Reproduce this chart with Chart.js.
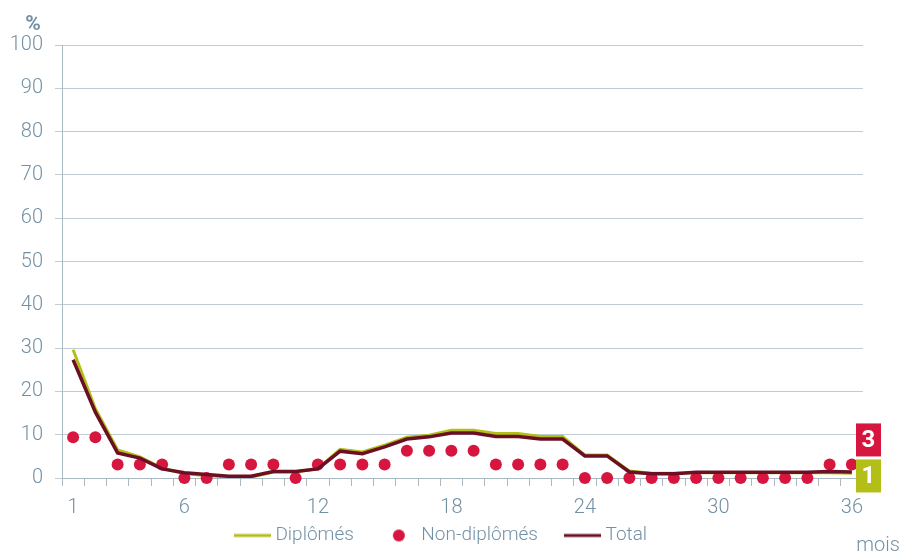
<!DOCTYPE html>
<html>
<head>
<meta charset="utf-8">
<script src="https://cdn.jsdelivr.net/npm/chart.js@4"></script>
<style>
  body { margin: 0; background: #fff; }
  #wrap { width: 901px; height: 555px; }
</style>
</head>
<body>
<div id="wrap"><canvas id="chart" width="901" height="555"></canvas></div>
<script>
// months 1..36
var months = ['1','2','3','4','5','6','7','8','9','10','11','12','13','14','15','16','17','18',
              '19','20','21','22','23','24','25','26','27','28','29','30','31','32','33','34','35','36'];
var shownMonths = ['1', '6', '12', '18', '24', '30', '36'];

var diplomes = [29.6, 16.0, 6.5, 4.9, 2.3, 1.0, 0.6, 0.2, 0.2, 1.4, 1.4, 2.2,
                6.6, 6.0, 7.6, 9.4, 9.9, 11.0, 11.0, 10.3, 10.3, 9.6, 9.6, 5.3,
                5.3, 1.6, 1.1, 1.1, 1.2, 1.2, 1.2, 1.2, 1.2, 1.2, 1.2, 1.1];
var nonDiplomes = [9.4, 9.4, 3.1, 3.1, 3.1, 0, 0, 3.1, 3.1, 3.1, 0, 3.1,
                   3.1, 3.1, 3.1, 6.3, 6.3, 6.3, 6.3, 3.1, 3.1, 3.1, 3.1, 0,
                   0, 0, 0, 0, 0, 0, 0, 0, 0, 0, 3.1, 3.1];
var total = [27.3, 15.2, 5.8, 4.6, 2.1, 1.2, 0.8, 0.4, 0.4, 1.5, 1.5, 2.1,
             6.2, 5.6, 7.2, 9.0, 9.5, 10.4, 10.4, 9.6, 9.6, 9.0, 9.0, 5.1,
             5.1, 1.4, 1.0, 1.0, 1.3, 1.3, 1.3, 1.3, 1.3, 1.3, 1.5, 1.4];

var green = '#b3bf17';
var red = '#d6163f';
var maroon = '#6b1024';
var txt = '#7391a5';
var gridCol = '#bfccd4';
var axisCol = '#a9bac4';
var fontFam = 'Roboto, "DejaVu Sans Condensed", sans-serif';

function legendIcon(kind, color) {
    var c = document.createElement('canvas');
    c.width = 60; c.height = 14;
    var g = c.getContext('2d');
    g.fillStyle = color;
    if (kind === 'line') {
        g.fillRect(23, 5.5, 37, 3);
    } else {
        g.beginPath();
        g.arc(42, 7, 6, 0, Math.PI * 2);
        g.fill();
    }
    return c;
}

var endLabels = {
    id: 'endLabels',
    afterDraw: function(chart) {
        var ctx = chart.ctx;
        var area = chart.chartArea;
        var y = chart.scales.y;
        ctx.save();
        // % and mois
        ctx.fillStyle = txt;
        ctx.font = 'bold 21px ' + fontFam;
        ctx.textAlign = 'center';
        ctx.textBaseline = 'middle';
        ctx.fillText('%', 33, 25);
        ctx.font = '300 20px ' + fontFam;
        ctx.fillText('mois', 878, 546);

        var x0 = area.right - 7;
        var gy = y.getPixelForValue(total[total.length - 1]) + 4;
        var boxes = [
            { color: green, val: Math.round(diplomes[diplomes.length - 1]), cy: gy },
            { color: red, val: Math.round(nonDiplomes[nonDiplomes.length - 1]), cy: gy - 36 }
        ];
        boxes.forEach(function(b) {
            ctx.fillStyle = b.color;
            ctx.fillRect(x0, b.cy - 16.5, 25, 33);
            ctx.fillStyle = '#fff';
            ctx.font = 'bold 24px ' + fontFam;
            ctx.fillText(String(b.val), x0 + 12.5, b.cy + 1);
        });
        ctx.restore();
    }
};

var ctx = document.getElementById('chart').getContext('2d');
new Chart(ctx, {
    type: 'line',
    data: {
        labels: months,
        datasets: [{
            label: 'Diplômés',
            data: diplomes,
            borderColor: green,
            backgroundColor: green,
            borderWidth: 3,
            pointRadius: 0,
            tension: 0,
            order: 2,
            pointStyle: legendIcon('line', green)
        }, {
            label: 'Non-diplômés',
            data: nonDiplomes,
            showLine: false,
            clip: false,
            borderColor: red,
            backgroundColor: red,
            pointRadius: 6,
            pointBorderWidth: 0,
            order: 1,
            pointStyle: 'circle'
        }, {
            label: 'Total',
            data: total,
            borderColor: maroon,
            backgroundColor: maroon,
            borderWidth: 3.5,
            pointRadius: 0,
            tension: 0,
            order: 0,
            pointStyle: legendIcon('line', maroon)
        }]
    },
    options: {
        responsive: false,
        animation: false,
        layout: { padding: { top: 45, right: 38, left: 0, bottom: 0 } },
        plugins: {
            title: { display: false },
            tooltip: { enabled: false },
            legend: {
                position: 'bottom',
                labels: {
                    usePointStyle: true,
                    pointStyleWidth: 50,
                    padding: 8,
                    color: txt,
                    font: { family: fontFam, size: 19, weight: '300' },
                    generateLabels: function(chart) {
                        return chart.data.datasets.map(function(ds, i) {
                            return {
                                text: ds.label,
                                fillStyle: ds.backgroundColor,
                                strokeStyle: ds.borderColor,
                                lineWidth: 0,
                                fontColor: txt,
                                pointStyle: i === 1 ? legendIcon('dot', red) : ds.pointStyle,
                                datasetIndex: i
                            };
                        });
                    }
                }
            }
        },
        scales: {
            x: {
                offset: true,
                afterFit: function(s) { s.height = 40; },
                grid: {
                    offset: true,
                    drawOnChartArea: false,
                    tickLength: 8,
                    color: axisCol
                },
                border: { color: axisCol },
                ticks: {
                    autoSkip: false,
                    maxRotation: 0,
                    padding: 10,
                    color: txt,
                    font: { family: fontFam, size: 20, weight: '300' },
                    callback: function(v, i) {
                        var l = months[i];
                        return shownMonths.indexOf(l) >= 0 ? l : '';
                    }
                }
            },
            y: {
                min: 0,
                max: 100,
                afterFit: function(s) { s.width = 62; },
                grid: { color: gridCol, tickLength: 7 },
                border: { color: axisCol },
                ticks: {
                    stepSize: 10,
                    padding: 12,
                    color: txt,
                    font: { family: fontFam, size: 20, weight: '300' }
                }
            }
        }
    },
    plugins: [endLabels]
});
</script>
</body>
</html>
